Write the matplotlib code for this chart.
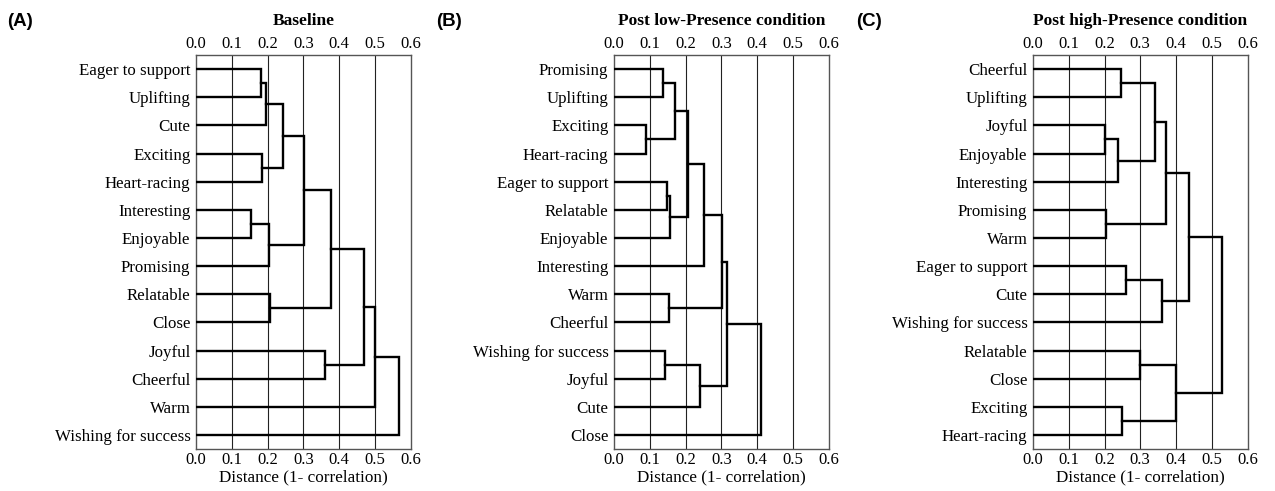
import matplotlib
matplotlib.use("Agg")
import matplotlib.pyplot as plt

# leaves in the order shown (top to bottom)
leaves_a = ["Eager to support", "Uplifting", "Cute", "Exciting", "Heart-racing",
            "Interesting", "Enjoyable", "Promising", "Relatable", "Close",
            "Joyful", "Cheerful", "Warm", "Wishing for success"]
leaves_b = ["Promising", "Uplifting", "Exciting", "Heart-racing", "Eager to support",
            "Relatable", "Enjoyable", "Interesting", "Warm", "Cheerful",
            "Wishing for success", "Joyful", "Cute", "Close"]
leaves_c = ["Cheerful", "Uplifting", "Joyful", "Enjoyable", "Interesting",
            "Promising", "Warm", "Eager to support", "Cute", "Wishing for success",
            "Relatable", "Close", "Exciting", "Heart-racing"]

# merges: (child a, child b, distance); ids < 14 are leaves, >= 14 earlier merges
merges_a = [(0, 1, 0.181), (14, 2, 0.195), (3, 4, 0.184), (15, 16, 0.242),
            (5, 6, 0.154), (18, 7, 0.204), (17, 19, 0.303), (8, 9, 0.208),
            (20, 21, 0.378), (10, 11, 0.360), (22, 23, 0.469), (24, 12, 0.502),
            (25, 13, 0.569)]
merges_b = [(0, 1, 0.137), (2, 3, 0.090), (14, 15, 0.170), (4, 5, 0.147),
            (17, 6, 0.158), (16, 18, 0.207), (19, 7, 0.251), (8, 9, 0.153),
            (20, 21, 0.301), (10, 11, 0.144), (23, 12, 0.240), (22, 24, 0.315),
            (25, 13, 0.412)]
merges_c = [(0, 1, 0.247), (2, 3, 0.201), (15, 4, 0.239), (14, 16, 0.341),
            (5, 6, 0.204), (17, 18, 0.373), (7, 8, 0.260), (20, 9, 0.362),
            (19, 21, 0.437), (10, 11, 0.298), (12, 13, 0.250), (23, 24, 0.401),
            (22, 25, 0.530)]

titles = ["Baseline", "Post low-Presence condition", "Post high-Presence condition"]
tags = ["(A)", "(B)", "(C)"]
xticks = [0.0, 0.1, 0.2, 0.3, 0.4, 0.5, 0.6]

serif = "Liberation Serif"
fig = plt.figure(figsize=(12.75, 4.91), dpi=100)

lefts = [196, 614, 1033]
for k, (leaves, merges) in enumerate([(leaves_a, merges_a), (leaves_b, merges_b), (leaves_c, merges_c)]):
    ax = fig.add_axes([lefts[k] / 1275, 1 - 449 / 491, 214.5 / 1275, 394 / 491])
    n = len(leaves)
    ypos = {i: float(i) for i in range(n)}
    hgt = {i: 0.0 for i in range(n)}
    for j, (a, b, h) in enumerate(merges):
        ax.plot([hgt[a], h, h, hgt[b]], [ypos[a], ypos[a], ypos[b], ypos[b]],
                color="black", lw=1.7, solid_joinstyle="miter", zorder=3)
        ypos[n + j] = (ypos[a] + ypos[b]) / 2
        hgt[n + j] = h

    ax.set_xlim(0, 0.6)
    ax.set_ylim(n - 0.5, -0.5)
    ax.set_yticks(range(n))
    ax.set_yticklabels(leaves, fontfamily=serif, fontsize=12.2)
    ax.set_xticks(xticks)
    ax.set_xticklabels([f"{t:.1f}" for t in xticks], fontfamily=serif, fontsize=12)
    ax.tick_params(axis="x", top=True, labeltop=True, length=0, pad=2)
    ax.tick_params(axis="y", length=0, pad=4)
    for x in xticks[1:-1]:
        ax.axvline(x, color="#222222", lw=0.8, zorder=1)
    for s in ax.spines.values():
        s.set_color("#555555")
        s.set_linewidth(1.0)
    ax.set_xlabel("Distance (1- correlation)", fontfamily=serif, fontsize=12.3, labelpad=1)
    ax.text(0.5, 1.087, titles[k], transform=ax.transAxes, ha="center", va="center",
            fontfamily=serif, fontweight="bold", fontsize=12.5)

tag_x = [7, 436, 856]
for k in range(3):
    fig.text(tag_x[k] / 1275, 1 - 21 / 491, tags[k], ha="left", va="center",
             fontfamily="Liberation Sans", fontweight="bold", fontsize=13.5)

fig.savefig("out.png", dpi=100)
